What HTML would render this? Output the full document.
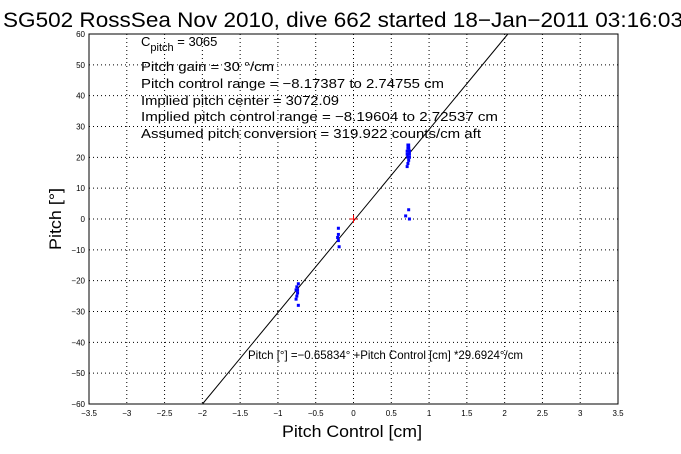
<!DOCTYPE html>
<html><head><meta charset="utf-8"><style>
body{margin:0;background:#fff;}
svg{display:block;font-family:"Liberation Sans",sans-serif;}
</style></head><body>
<svg id="c" width="681" height="454"></svg>
<script>
const xTicks=[-3.5,-3,-2.5,-2,-1.5,-1,-0.5,0,0.5,1,1.5,2,2.5,3,3.5];
const yTicks=[-60,-50,-40,-30,-20,-10,0,10,20,30,40,50,60];
const fitIntercept=-0.65834;
const fitSlope=29.6924;
const obsX=[0.72,0.73,0.74,0.71,0.72,0.73,0.74,0.72,0.71,0.73,0.72,0.74,0.72,0.71,0.73,0.74,-0.2,-0.2,-0.21,-0.2,-0.19,-0.75,-0.76,-0.74,-0.75,-0.73,-0.76,-0.74,-0.73,0.69,0.74,0.73];
const obsY=[24,23,22,21,20,19,22,18,17,24,21,20,23,22,23,21,-3,-5,-6,-7,-9,-22,-23,-24,-25,-21,-26,-23,-28,1,0,3];
const L=89,R=618,T=34,B=404;
const sx=v=>L+(v+3.5)/7*(R-L);
const sy=v=>B-(v+60)/120*(B-T);
const svg=document.getElementById('c');
const NS='http://www.w3.org/2000/svg';
function mk(t,a){const e=document.createElementNS(NS,t);for(const k in a)e.setAttribute(k,a[k]);svg.appendChild(e);return e;}
let e;
e=mk('rect',{x:L,y:T,width:R-L,height:B-T,fill:'#fff',stroke:'#000','stroke-width':1});


xTicks.forEach(v=>{
 const x=sx(v);
 if(v>-3.5&&v<3.5){e=mk('line',{x1:x,x2:x,y1:T,y2:B,stroke:'#000','stroke-dasharray':'1,3','stroke-width':1});
 
 }
 e=mk('text',{x:x,y:B+12,'font-size':8,'text-anchor':'middle'});e.textContent=String(v).replace('-','\u2212');
 
 
});
yTicks.forEach(v=>{
 const y=sy(v);
 if(v>-60&&v<60){e=mk('line',{x1:L,x2:R,y1:y,y2:y,stroke:'#000','stroke-dasharray':'1,3','stroke-width':1});
 
 }
 e=mk('text',{x:L-4,y:y+3,'font-size':8,'text-anchor':'end'});e.textContent=String(v).replace('-','\u2212');
 
 
});
const x0=(-60-fitIntercept)/fitSlope,x1=(60-fitIntercept)/fitSlope;
e=mk('line',{x1:sx(x0),y1:sy(-60),x2:sx(x1),y2:sy(60),stroke:'#000','stroke-width':1});


obsX.forEach((v,i)=>{
 e=mk('rect',{x:sx(v)-1.5,y:sy(obsY[i])-1.5,width:3,height:3,fill:'#0000ff'});
 
 
});
e=mk('path',{d:`M${sx(0)-4},${sy(0)}h8M${sx(0)},${sy(0)-4}v8`,stroke:'#f00','stroke-width':1});


function txt(x,y,s,str,name,anchor,len){const a={x:x,y:y,'font-size':s,'text-anchor':anchor||'start'};if(len){a.textLength=len;a.lengthAdjust='spacingAndGlyphs';}
 e=mk('text',a);e.innerHTML=str;
 
 return e;}
txt(3,27,21,'SG502 RossSea Nov 2010, dive 662 started 18\u2212Jan\u22122011 03:16:03','chart-title','start',680);
txt(352,437,17,'Pitch Control [cm]','x-axis-title','middle',140);
e=txt(0,0,17,'Pitch [°]','y-axis-title','middle',62);e.setAttribute('transform','translate(61,219) rotate(-90)');
txt(141,46,13,'C<tspan font-size="11" dy="5">pitch</tspan><tspan dy="-5"> = 3065</tspan>','annotation-c-pitch');
txt(141,71,13,'Pitch gain = 30 °/cm','annotation-pitch-gain','start',133);
txt(141,88,13,'Pitch control range = \u22128.17387 to 2.74755 cm','annotation-control-range','start',303);
txt(141,105,13,'Implied pitch center = 3072.09','annotation-pitch-center','start',198);
txt(141,121,13,'Implied pitch control range = \u22128.19604 to 2.72537 cm','annotation-implied-range','start',357);
txt(141,138,13,'Assumed pitch conversion = 319.922 counts/cm aft','annotation-conversion','start',340);
txt(248,359,12,'Pitch [°] =\u22120.65834° +Pitch Control [cm] *29.6924°/cm','fit-equation','start',275);
</script>
</body></html>
